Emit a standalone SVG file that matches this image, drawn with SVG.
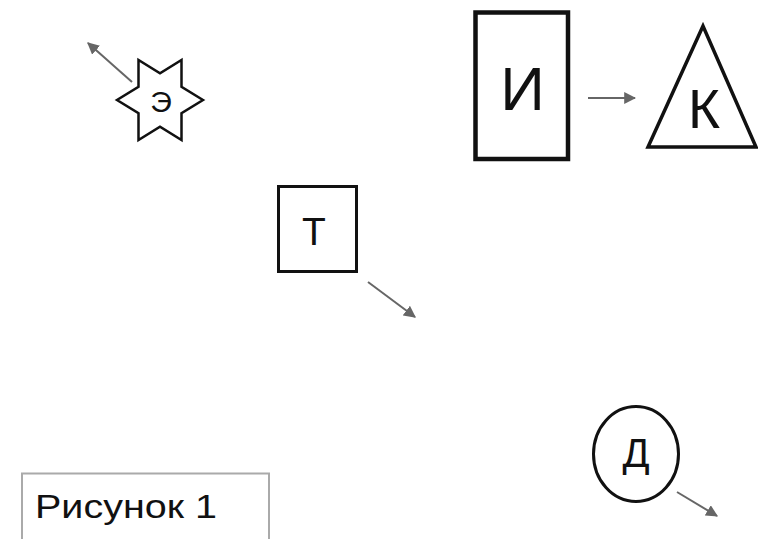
<svg xmlns="http://www.w3.org/2000/svg" width="758" height="539" viewBox="0 0 758 539">
<style>
.shape{fill:#fff;stroke:#111}
.lbl{font-family:"Liberation Sans",Arial,sans-serif;fill:#111;text-anchor:middle}
.conn{stroke:#666;stroke-width:2;fill:none}
</style>
<defs>
<marker id="ah" viewBox="0 0 10 10" refX="9" refY="5" markerWidth="6" markerHeight="6" orient="auto" markerUnits="strokeWidth">
<path d="M0,0 L10,5 L0,10 z" fill="#666"/>
</marker>
</defs>
<rect width="758" height="539" fill="#fff"/>
<g id="connectors">
<line class="conn" x1="132" y1="82" x2="88" y2="43" marker-end="url(#ah)"/>
<line class="conn" x1="588" y1="98" x2="635" y2="98" marker-end="url(#ah)"/>
<line class="conn" x1="368" y1="282" x2="415" y2="317" marker-end="url(#ah)"/>
<line class="conn" x1="677" y1="492" x2="717" y2="516" marker-end="url(#ah)"/>
</g>
<g id="node-e">
<polygon class="shape" stroke-width="2.5" points="203,100 181.5,86.7 181.5,60 160,73.3 138.5,60 138.5,86.7 117,100 138.5,113.3 138.5,140 160,126.7 181.5,140 181.5,113.3"/>
<text class="lbl" x="161" y="112" font-size="30">Э</text>
</g>
<g id="node-i">
<rect class="shape" stroke-width="4.5" x="475.5" y="12.5" width="92.5" height="146.5"/>
<text class="lbl" x="522.5" y="110" font-size="62">И</text>
</g>
<g id="node-k">
<polygon class="shape" stroke-width="3.5" points="703,26 648,147 756,147"/>
<text class="lbl" x="704" y="128" font-size="55">К</text>
</g>
<g id="node-t">
<rect class="shape" stroke-width="3" x="278.5" y="186.5" width="78" height="85"/>
<text class="lbl" x="314" y="245" font-size="39">Т</text>
</g>
<g id="node-d">
<ellipse class="shape" stroke-width="3" cx="636" cy="454" rx="42.5" ry="47.5"/>
<text class="lbl" x="636" y="467" font-size="40">Д</text>
</g>
<g id="caption">
<rect x="22" y="473.5" width="247" height="80" fill="#fff" stroke="#aaa" stroke-width="2"/>
<text x="35" y="518" font-size="33" font-family="Liberation Sans, Arial, sans-serif" fill="#111" textLength="182" lengthAdjust="spacingAndGlyphs">Рисунок 1</text>
</g>
</svg>
